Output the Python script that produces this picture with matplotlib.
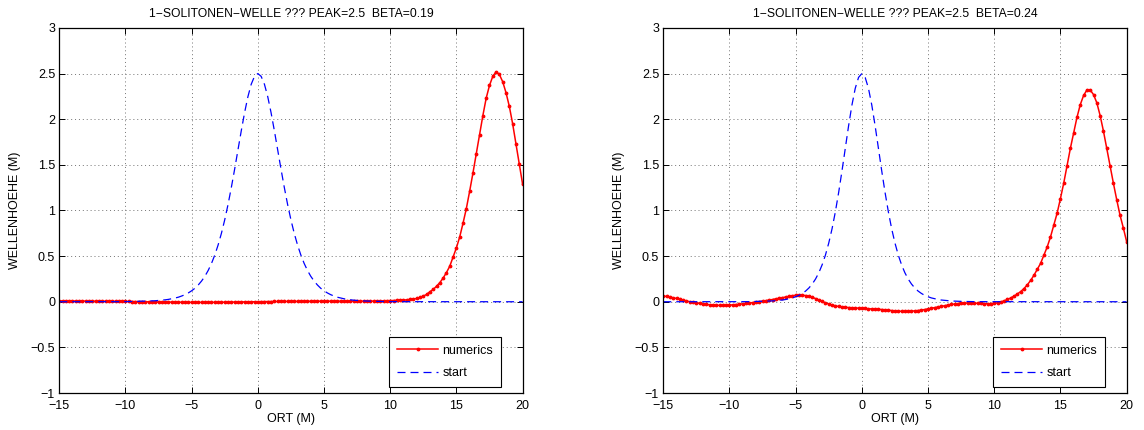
import numpy as np
import matplotlib.pyplot as plt
from matplotlib.ticker import FuncFormatter

plt.rcParams['font.family'] = ['Liberation Sans', 'DejaVu Sans']

# grid of the model, -15 .. 20 step 0.25
x = np.linspace(-15, 20, 141)

# left run, beta=0.19
start_l = [
    0, 0, 0, 0, 0, 0, 0, 0, 0, 0, 0, 0, 0, 0, 0, 0, 0.001, 0.001, 0.001, 0.001,
    0.001, 0.002, 0.002, 0.003, 0.004, 0.005, 0.006, 0.007, 0.009, 0.011, 0.014, 0.017, 0.021, 0.026, 0.033, 0.041, 0.050, 0.063, 0.078, 0.097,
    0.120, 0.148, 0.184, 0.227, 0.279, 0.343, 0.420, 0.512, 0.622, 0.750, 0.898, 1.066, 1.253, 1.454, 1.664, 1.874, 2.072, 2.246, 2.383, 2.470,
    2.500, 2.470, 2.383, 2.246, 2.072, 1.874, 1.664, 1.454, 1.253, 1.066, 0.898, 0.750, 0.622, 0.512, 0.420, 0.343, 0.279, 0.227, 0.184, 0.148,
    0.120, 0.097, 0.078, 0.063, 0.050, 0.041, 0.033, 0.026, 0.021, 0.017, 0.014, 0.011, 0.009, 0.007, 0.006, 0.005, 0.004, 0.003, 0.002, 0.002,
    0.001, 0.001, 0.001, 0.001, 0.001, 0, 0, 0, 0, 0, 0, 0, 0, 0, 0, 0, 0, 0, 0, 0,
    0, 0, 0, 0, 0, 0, 0, 0, 0, 0, 0, 0, 0, 0, 0, 0, 0, 0, 0, 0,
    0]
num_l = [
    0.010, 0.010, 0.009, 0.009, 0.008, 0.008, 0.008, 0.007, 0.007, 0.007, 0.006, 0.006, 0.006, 0.006, 0.005, 0.005, 0.005, 0.004, 0.004, 0.004,
    0.003, 0.003, 0.002, 0.002, 0.001, 0.001, 0.000, -0.001, -0.001, -0.002, -0.002, -0.003, -0.003, -0.004, -0.004, -0.005, -0.005, -0.006, -0.006, -0.006,
    -0.007, -0.007, -0.007, -0.007, -0.007, -0.007, -0.006, -0.006, -0.006, -0.005, -0.005, -0.004, -0.004, -0.003, -0.003, -0.002, -0.002, -0.001, -0.001, 0.000,
    0.000, 0.001, 0.001, 0.002, 0.002, 0.003, 0.003, 0.003, 0.004, 0.004, 0.004, 0.005, 0.005, 0.005, 0.005, 0.006, 0.006, 0.006, 0.006, 0.006,
    0.006, 0.006, 0.006, 0.006, 0.006, 0.006, 0.006, 0.006, 0.006, 0.006, 0.006, 0.006, 0.006, 0.007, 0.007, 0.007, 0.008, 0.008, 0.009, 0.010,
    0.011, 0.012, 0.014, 0.016, 0.018, 0.021, 0.025, 0.030, 0.036, 0.047, 0.062, 0.080, 0.110, 0.135, 0.170, 0.210, 0.260, 0.320, 0.390, 0.490,
    0.59, 0.71, 0.86, 1.02, 1.21, 1.41, 1.62, 1.83, 2.04, 2.23, 2.37, 2.47, 2.52, 2.49, 2.41, 2.29, 2.14, 1.95, 1.73, 1.51,
    1.29]

# right run, beta=0.24
start_r = [
    0, 0, 0, 0, 0, 0, 0, 0, 0, 0, 0, 0, 0, 0, 0, 0, 0, 0, 0, 0,
    0, 0, 0, 0, 0.001, 0.001, 0.001, 0.002, 0.002, 0.003, 0.004, 0.005, 0.007, 0.009, 0.012, 0.015, 0.019, 0.025, 0.033, 0.042,
    0.055, 0.070, 0.091, 0.117, 0.151, 0.194, 0.249, 0.318, 0.405, 0.512, 0.644, 0.801, 0.987, 1.200, 1.435, 1.683, 1.930, 2.155, 2.338, 2.458,
    2.500, 2.458, 2.338, 2.155, 1.930, 1.683, 1.435, 1.200, 0.987, 0.801, 0.644, 0.512, 0.405, 0.318, 0.249, 0.194, 0.151, 0.117, 0.091, 0.070,
    0.055, 0.042, 0.033, 0.025, 0.019, 0.015, 0.012, 0.009, 0.007, 0.005, 0.004, 0.003, 0.002, 0.002, 0.001, 0.001, 0.001, 0, 0, 0,
    0, 0, 0, 0, 0, 0, 0, 0, 0, 0, 0, 0, 0, 0, 0, 0, 0, 0, 0, 0,
    0, 0, 0, 0, 0, 0, 0, 0, 0, 0, 0, 0, 0, 0, 0, 0, 0, 0, 0, 0,
    0]
num_r = [
    0.062, 0.058, 0.051, 0.044, 0.036, 0.027, 0.018, 0.009, 0.000, -0.007, -0.013, -0.019, -0.024, -0.029, -0.033, -0.036, -0.038, -0.040, -0.040, -0.039,
    -0.037, -0.034, -0.031, -0.027, -0.023, -0.019, -0.014, -0.009, -0.004, 0.001, 0.006, 0.012, 0.018, 0.024, 0.031, 0.038, 0.045, 0.052, 0.059, 0.066,
    0.071, 0.073, 0.072, 0.068, 0.060, 0.049, 0.035, 0.019, 0.003, -0.012, -0.025, -0.036, -0.045, -0.052, -0.057, -0.061, -0.064, -0.066, -0.068, -0.069,
    -0.071, -0.073, -0.075, -0.077, -0.079, -0.082, -0.085, -0.089, -0.093, -0.097, -0.100, -0.103, -0.105, -0.106, -0.105, -0.103, -0.100, -0.096, -0.091, -0.085,
    -0.078, -0.071, -0.064, -0.057, -0.050, -0.043, -0.036, -0.030, -0.025, -0.020, -0.017, -0.015, -0.014, -0.014, -0.015, -0.017, -0.019, -0.021, -0.022, -0.021,
    -0.018, -0.012, -0.003, 0.010, 0.025, 0.042, 0.062, 0.085, 0.112, 0.145, 0.185, 0.234, 0.290, 0.354, 0.420, 0.510, 0.600, 0.710, 0.840, 0.970,
    1.13, 1.30, 1.49, 1.68, 1.85, 2.02, 2.16, 2.26, 2.32, 2.32, 2.27, 2.18, 2.04, 1.87, 1.68, 1.49, 1.30, 1.12, 0.95, 0.81,
    0.66]

titles = ['1\u2212SOLITONEN\u2212WELLE ??? PEAK=2.5  BETA=0.19',
          '1\u2212SOLITONEN\u2212WELLE ??? PEAK=2.5  BETA=0.24']
xticks = [-15, -10, -5, 0, 5, 10, 15, 20]
yticks = [-1, -0.5, 0, 0.5, 1, 1.5, 2, 2.5, 3]

fmt = FuncFormatter(lambda v, p: ('%g' % v).replace('-', '\u2212'))

fig = plt.figure(figsize=(11.44, 4.30), dpi=100)
ax1 = fig.add_axes([0.0518, 0.086, 0.405, 0.849])
ax2 = fig.add_axes([0.5798, 0.086, 0.405, 0.849])

for ax, num, start, title in [(ax1, num_l, start_l, titles[0]), (ax2, num_r, start_r, titles[1])]:
    ax.plot(x, num, '-', color='red', marker='.', markersize=3.5, linewidth=1.1, label='numerics')
    ax.plot(x, start, '--', color='blue', linewidth=0.9, dashes=(6.4, 4), label='start')
    ax.set_xlim(-15, 20)
    ax.set_ylim(-1, 3)
    ax.set_xticks(xticks)
    ax.set_yticks(yticks)
    ax.xaxis.set_major_formatter(fmt)
    ax.yaxis.set_major_formatter(fmt)
    ax.grid(True, color='0.45', linestyle=(0, (1, 3)), linewidth=0.7)
    ax.tick_params(direction='in', top=True, right=True, length=4, width=0.7, labelsize=9)
    ax.tick_params(axis='x', pad=5)
    ax.tick_params(axis='y', pad=3)
    for s in ax.spines.values():
        s.set_linewidth(0.9)
    ax.set_title(title, fontsize=8.7, pad=8)
    ax.set_xlabel('ORT (M)', fontsize=9, labelpad=1)
    ax.set_ylabel('WELLENHOEHE (M)', fontsize=9, labelpad=7)
    leg = ax.legend(loc='lower right', bbox_to_anchor=(0.953, 0.017), borderaxespad=0,
                    fontsize=9, fancybox=False, framealpha=1, edgecolor='black',
                    handlelength=3.3, borderpad=0.6, labelspacing=0.85, handletextpad=0.35)
    leg.get_frame().set_linewidth(0.8)

fig.savefig('out.png', dpi=100)
